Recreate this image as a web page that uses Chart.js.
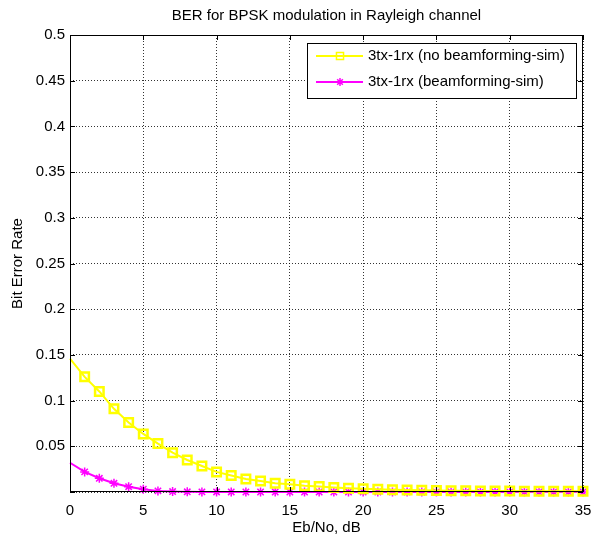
<!DOCTYPE html>
<html>
<head>
<meta charset="utf-8">
<script src="https://cdn.jsdelivr.net/npm/chart.js@4.4.1/dist/chart.umd.min.js"></script>
<style>
  html, body { margin: 0; padding: 0; background: #fff; }
  #wrap { width: 595px; height: 541px; }
</style>
</head>
<body>
<div id="wrap"><canvas id="ber" width="595" height="541"></canvas></div>
<script>
const ebNo = [0, 1, 2, 3, 4, 5, 6, 7, 8, 9, 10, 11, 12, 13, 14, 15, 16, 17,
  18, 19, 20, 21, 22, 23, 24, 25, 26, 27, 28, 29, 30, 31, 32, 33, 34, 35];

const berNoBf = [0.146, 0.126, 0.110, 0.091, 0.076, 0.0635, 0.053, 0.043, 0.035,
  0.0285, 0.022, 0.018, 0.0142, 0.012, 0.0095, 0.0084, 0.0069, 0.006, 0.005,
  0.0042, 0.0036, 0.003, 0.0025, 0.0021, 0.0018, 0.0016, 0.0014, 0.0013, 0.0012,
  0.0011, 0.001, 0.0009, 0.0008, 0.0008, 0.0007, 0.0007];

const berBf = [0.032, 0.022, 0.015, 0.0095, 0.0058, 0.003, 0.0012, 0.0005, 0.0002,
  0.0001, 0.00005, 0.00003, 0.00002, 0.00001, 0, 0, 0, 0, 0, 0, 0, 0, 0, 0,
  0, 0, 0, 0, 0, 0, 0, 0, 0, 0, 0, 0];

const seriesNames = ["3tx-1rx (no beamforming-sim)", "3tx-1rx (beamforming-sim)"];
const titleText = "BER for BPSK modulation in Rayleigh channel";
const xLabel = "Eb/No, dB";
const yLabel = "Bit Error Rate";

const FONT = "Arial, 'Liberation Sans', sans-serif";

// first sample has no marker in the original
const radii = (r) => ebNo.map((x, i) => (i === 0 ? 0 : r));

const matlabDecor = {
  id: "matlabDecor",
  afterDraw(chart) {
    const { ctx, chartArea: a, scales } = chart;
    ctx.save();
    // box
    ctx.strokeStyle = "#000";
    ctx.lineWidth = 1;
    ctx.strokeRect(a.left + 0.5, a.top + 0.5, a.right - a.left - 1, a.bottom - a.top - 1);

    // inward ticks on all sides
    const tl = 5;
    ctx.beginPath();
    scales.x.ticks.forEach((t) => {
      const px = Math.round(scales.x.getPixelForValue(t.value)) + 0.5;
      ctx.moveTo(px, a.bottom); ctx.lineTo(px, a.bottom - tl);
      ctx.moveTo(px, a.top); ctx.lineTo(px, a.top + tl);
    });
    scales.y.ticks.forEach((t) => {
      const py = Math.round(scales.y.getPixelForValue(t.value)) + 0.5;
      ctx.moveTo(a.left, py); ctx.lineTo(a.left + tl, py);
      ctx.moveTo(a.right, py); ctx.lineTo(a.right - tl, py);
    });
    ctx.stroke();

    // title and axis labels
    ctx.fillStyle = "#000";
    ctx.textAlign = "center";
    ctx.textBaseline = "alphabetic";
    ctx.font = "15px " + FONT;
    ctx.fillText(titleText, (a.left + a.right) / 2, 20);
    ctx.textBaseline = "middle";
    ctx.fillText(xLabel, (a.left + a.right) / 2, 528);
    ctx.save();
    ctx.translate(18, (a.top + a.bottom) / 2);
    ctx.rotate(-Math.PI / 2);
    ctx.fillText(yLabel, 0, 0);
    ctx.restore();

    // legend
    const lx = 307, ly = 43, lw = 269, lh = 55;
    ctx.fillStyle = "#fff";
    ctx.fillRect(lx, ly, lw, lh);
    ctx.strokeStyle = "#000";
    ctx.lineWidth = 1;
    ctx.strokeRect(lx + 0.5, ly + 0.5, lw, lh);
    chart.data.datasets.forEach((ds, i) => {
      const y = ly + 13 + i * 26;
      ctx.strokeStyle = ds.borderColor;
      ctx.fillStyle = ds.pointBackgroundColor;
      ctx.lineWidth = 2;
      ctx.beginPath();
      ctx.moveTo(lx + 9, y); ctx.lineTo(lx + 56, y);
      ctx.stroke();
      ctx.lineWidth = 1.5;
      Chart.helpers.drawPoint(ctx, {
        pointStyle: ds.pointStyle,
        radius: i === 0 ? 5 : 4,
        borderWidth: 1.5
      }, lx + 33, y);
      ctx.fillStyle = "#000";
      ctx.textAlign = "left";
      ctx.textBaseline = "middle";
      ctx.font = "15px " + FONT;
      ctx.fillText(ds.label, lx + 61, y);
    });
    ctx.restore();
  }
};

new Chart(document.getElementById("ber"), {
  type: "line",
  data: {
    labels: ebNo,
    datasets: [
      {
        label: seriesNames[0],
        data: ebNo.map((x, i) => ({ x, y: berNoBf[i] })),
        borderColor: "#ffff00",
        backgroundColor: "rgba(0,0,0,0)",
        borderWidth: 2,
        pointStyle: "rect",
        pointRadius: radii(6),
        pointBorderWidth: 2.5,
        pointBorderColor: "#ffff00",
        pointBackgroundColor: "rgba(0,0,0,0)",
        clip: false,
        tension: 0
      },
      {
        label: seriesNames[1],
        data: ebNo.map((x, i) => ({ x, y: berBf[i] })),
        borderColor: "#ff00ff",
        backgroundColor: "rgba(0,0,0,0)",
        borderWidth: 2,
        pointStyle: "star",
        pointRadius: radii(4.5),
        pointBorderWidth: 1.5,
        pointBorderColor: "#ff00ff",
        pointBackgroundColor: "#ff00ff",
        clip: false,
        tension: 0
      }
    ]
  },
  options: {
    responsive: false,
    animation: false,
    layout: { padding: { top: 35, right: 12, left: 0, bottom: 0 } },
    plugins: { legend: { display: false }, tooltip: { enabled: false }, title: { display: false } },
    scales: {
      x: {
        type: "linear",
        min: 0,
        max: 35,
        afterFit(s) { s.height = 49; s.paddingLeft = 0; s.paddingRight = 0; },
        ticks: { stepSize: 5, color: "#000", padding: 10, font: { family: FONT, size: 15 }, maxRotation: 0 },
        grid: { color: "rgba(0,0,0,0.8)", drawTicks: false, lineWidth: 1 },
        border: { display: false, dash: [1, 2] }
      },
      y: {
        min: 0,
        max: 0.5,
        afterFit(s) { s.width = 70; s.paddingTop = 0; s.paddingBottom = 0; },
        ticks: {
          stepSize: 0.05,
          color: "#000",
          padding: 5,
          font: { family: FONT, size: 15 },
          callback: (v) => (v === 0 ? "" : +v.toFixed(2) + "")
        },
        grid: { color: "rgba(0,0,0,0.8)", drawTicks: false, lineWidth: 1 },
        border: { display: false, dash: [1, 2] }
      }
    }
  },
  plugins: [matlabDecor]
});
</script>
</body>
</html>
